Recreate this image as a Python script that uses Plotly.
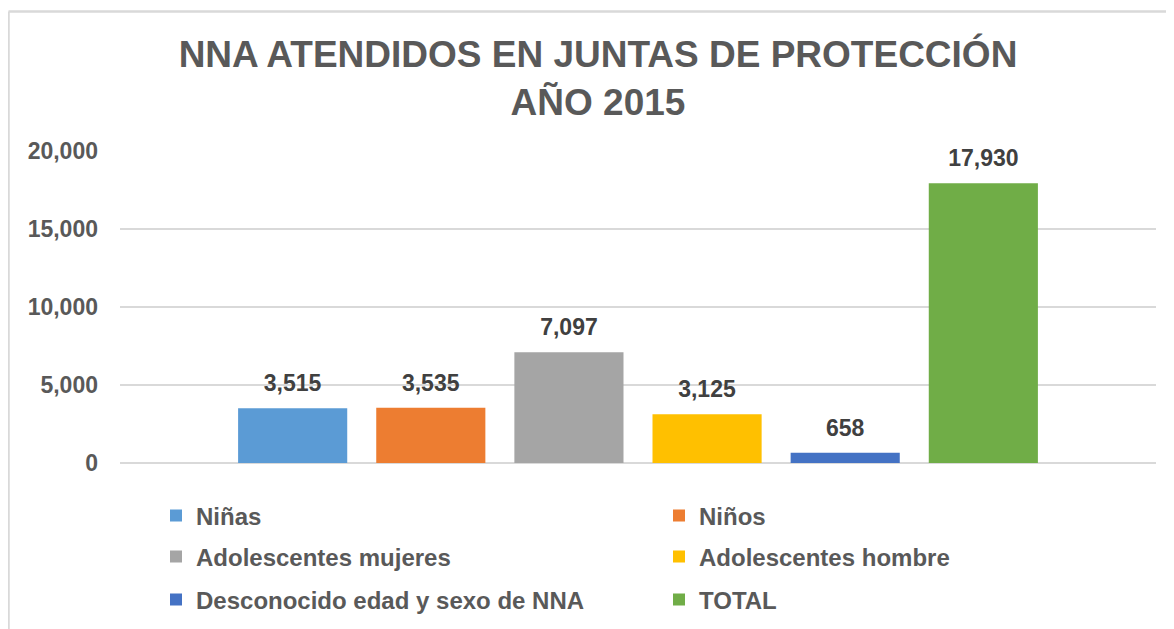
import plotly.graph_objects as go

series = ["Niñas", "Niños", "Adolescentes mujeres", "Adolescentes hombre",
          "Desconocido edad y sexo de NNA", "TOTAL"]
values = [3515, 3535, 7097, 3125, 658, 17930]
colors = ["#5B9BD5", "#ED7D31", "#A5A5A5", "#FFC000", "#4472C4", "#70AD47"]
legend_ids = ["legend", "legend", "legend2", "legend2", "legend3", "legend3"]
category = ["2015"]
y_ticks = [0, 5000, 10000, 15000, 20000]
y_max = 20000

FONT = "Liberation Sans, Arial, sans-serif"

# page body has an 8px margin; work in page pixels and convert
OFF = 8
PAGE_W, PAGE_H = 1174, 629
W, H = PAGE_W - OFF, PAGE_H - OFF
PL, PR, PT, PB = 120, 1156, 151, 463          # plot area in page pixels
L, T = PL - OFF, PT - OFF
R, B = PAGE_W - PR, PAGE_H - PB
pw, ph = PR - PL, PB - PT

def px_x(px):
    return (px - PL) / pw

def px_y(py):
    return (PB - py) / ph

# data labels sit ~9px higher than plotly's default outside padding
label_lift = 9 / ph * y_max

fig = go.Figure()
for name, v, c, lg in zip(series, values, colors, legend_ids):
    fig.add_trace(go.Bar(
        x=category, y=[v], name=name, legend=lg,
        marker=dict(color=c, line=dict(width=0)), hoverinfo="name+y",
    ))
for name, v in zip(series, values):
    fig.add_trace(go.Bar(
        x=category, y=[v], name=name, yaxis="y2", showlegend=False,
        marker=dict(color="rgba(0,0,0,0)", line=dict(width=0)),
        hoverinfo="skip",
        texttemplate="%{y:,}", textposition="outside",
        textfont=dict(family=FONT, size=23, color="#404040", weight="bold"),
        cliponaxis=False,
    ))

legend_common = dict(
    orientation="h", entrywidth=458, entrywidthmode="pixels",
    xanchor="left", yanchor="middle", x=px_x(156),
    font=dict(family=FONT, size=24, color="#595959", weight="bold"),
    bgcolor="rgba(0,0,0,0)", traceorder="normal",
)

fig.update_layout(
    width=W, height=H,
    margin=dict(l=L, r=R, t=T, b=B, autoexpand=False),
    paper_bgcolor="white", plot_bgcolor="white",
    barmode="group", bargap=0.2, bargroupgap=0.21,
    title=dict(
        text="NNA ATENDIDOS EN JUNTAS DE PROTECCIÓN<br>AÑO 2015",
        x=(598 - OFF) / W, xanchor="center", xref="container",
        y=1 - 59 / H, yanchor="top", yref="container",
        font=dict(family=FONT, size=37, color="#595959", weight="bold"),
    ),
    xaxis=dict(showticklabels=False, showgrid=False, zeroline=False,
               showline=False, ticks=""),
    yaxis=dict(range=[0, y_max], tickvals=y_ticks, tickformat=",",
               showgrid=True, gridcolor="#D9D9D9", gridwidth=1.5,
               zeroline=True, zerolinecolor="#D9D9D9", zerolinewidth=1.5,
               ticks="", ticklabelstandoff=21,
               tickfont=dict(family=FONT, size=23, color="#595959", weight="bold")),
    yaxis2=dict(range=[-label_lift, y_max - label_lift], overlaying="y",
                visible=False, showgrid=False, zeroline=False),
    legend=dict(**legend_common, y=px_y(516)),
    legend2=dict(**legend_common, y=px_y(557)),
    legend3=dict(**legend_common, y=px_y(600)),
    showlegend=True,
    shapes=[
        dict(type="line", xref="paper", yref="paper",
             x0=px_x(8.5), x1=px_x(8.5), y0=px_y(PAGE_H + 5), y1=px_y(11.5),
             line=dict(color="#D9D9D9", width=2.5)),
        dict(type="line", xref="paper", yref="paper",
             x0=px_x(8.5), x1=px_x(PAGE_W + 5), y0=px_y(11.5), y1=px_y(11.5),
             line=dict(color="#D9D9D9", width=2.5)),
    ],
)

fig.write_html("out.html")
